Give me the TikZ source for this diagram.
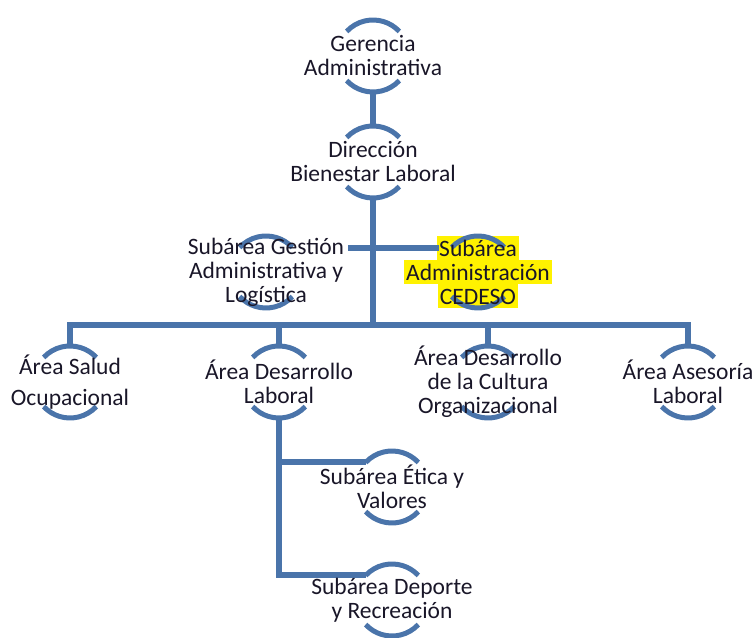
\documentclass[tikz,border=0pt]{standalone}
\usepackage{fontspec}
\setmainfont{Carlito}
\definecolor{orgblue}{RGB}{74,116,170}
\definecolor{orgtext}{RGB}{25,22,40}
\newcommand\hlline[1]{{\setlength\fboxsep{0pt}\colorbox{yellow}{\strut\kern2pt#1\kern2pt}}}
\begin{document}
\begin{tikzpicture}[x=1pt,y=1pt,line join=miter,
  ring/.style={circle,minimum size=72pt,inner sep=0pt,outer sep=0pt},
  arcline/.style={orgblue,line width=5pt},
  link/.style={orgblue,line width=6pt},
  lbl/.style={align=center,text=orgtext,inner sep=0pt,font=\fontsize{23.5}{24}\selectfont}]
  \def\r{36}
  \useasboundingbox (0,0) rectangle (752,637);
  % rings
  \node[ring] (ger) at (373,581) {};
  \node[ring] (dir) at (373,475) {};
  \node[ring] (gest) at (266,365) {};
  \node[ring] (cedeso) at (478,365) {};
  \node[ring] (salud) at (70,255) {};
  \node[ring] (deslab) at (279,255) {};
  \node[ring] (cult) at (488,255) {};
  \node[ring] (asesor) at (688,255) {};
  \node[ring] (etica) at (392,150) {};
  \node[ring] (deporte) at (392,37) {};
  % highlight behind CEDESO
  \node[lbl] (cedeso-hl) at (cedeso) {\hlline{\phantom{Subárea}}\\\hlline{\phantom{Administración}}\\\hlline{\phantom{CEDESO}}};
  % arcs
  \foreach \n in {ger,dir,gest,cedeso,salud,deslab,cult,asesor,etica,deporte}{
    \draw[arcline] (\n.43) arc (43:137:\r);
    \draw[arcline] (\n.223) arc (223:317:\r);
  }
  % links
  \coordinate (bus) at (373,312);
  \coordinate (gest-end) at (348,389);
  \coordinate (cedeso-end) at (439,389);
  \draw[link] (ger.south) -- (dir.north);
  \draw[link] (dir.south) -- (bus);
  \draw[link] (gest-end) -- (cedeso-end);
  \draw[link] (salud.north) |- (bus);
  \draw[link] (deslab.north) |- (bus);
  \draw[link] (cult.north) |- (bus);
  \draw[link] (asesor.north) |- (bus);
  \draw[link] (deslab.south) |- (etica.137);
  \draw[link] (deslab.south) |- (deporte.137);
  % texts
  \node[lbl] (ger-t) at (ger) {Gerencia\\Administrativa};
  \node[lbl] (dir-t) at (dir) {Dirección\\Bienestar Laboral};
  \node[lbl] (gest-t) at (gest) {Subárea Gestión\\Administrativa y\\Logística};
  \node[lbl] (cedeso-t) at (cedeso) {Subárea\\Administración\\CEDESO};
  \node[lbl] (salud-t) at (salud) {Área Salud\\[7pt]Ocupacional};
  \node[lbl] (deslab-t) at (deslab) {Área Desarrollo\\Laboral};
  \node[lbl] (cult-t) at (cult) {Área Desarrollo\\de la Cultura\\Organizacional};
  \node[lbl] (asesor-t) at (asesor) {Área Asesoría\\Laboral};
  \node[lbl] (etica-t) at (etica) {Subárea Ética y\\Valores};
  \node[lbl] (deporte-t) at (deporte) {Subárea Deporte\\y Recreación};
\end{tikzpicture}
\end{document}
